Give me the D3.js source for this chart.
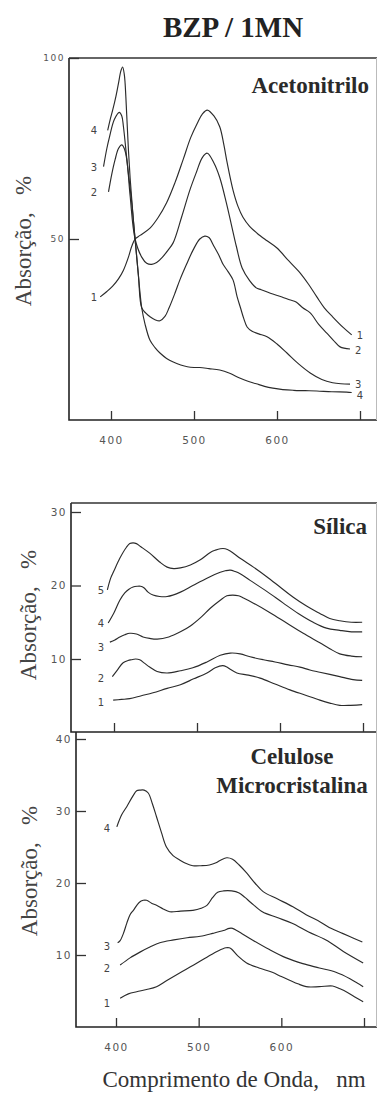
<!DOCTYPE html>
<html><head><meta charset="utf-8">
<script src="https://cdn.jsdelivr.net/npm/d3@7"></script>
<style>
html,body{margin:0;padding:0;background:#fff;}
svg{display:block;}
.tk text{font-family:"DejaVu Sans",sans-serif;font-size:10px;fill:#555;letter-spacing:1.5px;}
.tk line{stroke:#333;stroke-width:1.3;}
.tk path{display:none;}
</style></head><body>
<svg id="c" width="377" height="1095"></svg>
<script>
// ---------- data ----------
const title = "BZP / 1MN";
const xLabel = "Comprimento de Onda,   nm";
const yLabel = "Absorção,   %";
const xTicks = [400, 500, 600, 700];
const xTickLabels = ["400", "500", "600", ""];

// Panel A: Acetonitrilo  ([wavelength nm, absorption %])
const acetoName = "Acetonitrilo";
const acetoYTicks = [50, 100];
const aceto1 = [[387,34],[395,35.5],[402,37],[409,39],[415,41.4],[421,45],[425,48],[429,50],[435,51],[447,53],[457,56],[467,60],[477,65.5],[487,72],[496,78],[504,82],[510,84.5],[516,85.6],[524,84],[531,81],[536,76],[540,71],[547,63.5],[553,59],[559,56],[567,53.5],[576,51.6],[588,49.5],[600,47.5],[614,44],[628,40.6],[638,37.5],[648,34],[657,31],[667,28.5],[680,25.5],[690,23.5]];
const aceto2 = [[397,63],[401,68],[405,72],[409,75],[413,76],[416,75],[419,72],[423,62],[429,50],[437,45],[443,43.3],[449,43],[455,43.5],[462,45],[469,47],[475,49],[485,56],[495,63.5],[503,68.5],[510,72.5],[516,73.7],[524,71],[531,67],[539,60],[545,54],[551,48],[558,42],[567,38.5],[575,36.5],[581,36],[592,35],[606,34],[615,33.2],[623,32.6],[631,31],[640,29.6],[650,26.5],[660,24],[668,22],[676,20.2],[688,19.6]];
const aceto3 = [[391,70],[395,75],[398,78],[404,83],[410,85],[413,84],[415,81],[420,70],[425,60],[429,50],[433,40],[437,31],[442,29.5],[447,28.5],[453,27.7],[459,27.4],[465,28.6],[470,31],[477,35],[483,38.7],[491,43],[499,47],[507,50],[513,50.8],[518,50.4],[524,48],[530,45.5],[535,43],[541,41],[547,38.7],[552,34],[556,31],[560,28],[564,25.7],[570,24.5],[578,23.8],[588,23],[600,21],[612,18.5],[626,15.5],[640,13],[654,11.2],[667,10.3],[677,10],[688,9.9]];
const aceto4 = [[396,80],[399,83],[402,85.6],[406,89.5],[409,93],[412,96.5],[414,97.5],[416,95.5],[417,93],[419,84],[421,74.6],[423,67],[425,61],[427,55],[429,50],[431,45],[433,40],[435,35],[437,31],[441,26.5],[447,22],[453,20],[459,18.5],[467,17],[475,16],[484,15.2],[492,14.7],[500,14.5],[507,14.5],[518,14.2],[531,13.8],[543,12.9],[555,11.6],[565,10.7],[575,10],[585,9.3],[595,8.8],[607,8.4],[620,8.2],[634,8.1],[648,8],[666,7.8],[684,7.7],[690,7.6]];
const acetoSeries = [aceto1, aceto2, aceto3, aceto4];
const acetoNames = ["1", "2", "3", "4"];

// Panel B: Sílica
const silName = "Sílica";
const silYTicks = [10, 20, 30];
const sil1 = [[399,4.4],[409,4.5],[419,4.6],[433,5],[447,5.4],[464,6],[480,6.5],[496,7.3],[512,8.1],[522,8.8],[531,9.1],[536,8.9],[540,8.6],[548,8.1],[562,7.8],[576,7.4],[594,6.6],[612,5.8],[630,5.1],[648,4.4],[660,4],[672,3.7],[685,3.7],[699,3.8]];
const sil2 = [[398,7.6],[404,8.5],[411,9.5],[417,9.8],[421,9.9],[426,10],[431,9.9],[437,9.4],[443,8.9],[452,8.3],[464,8.1],[480,8.4],[495,8.8],[512,9.6],[528,10.5],[540,10.8],[552,10.7],[564,10.3],[580,9.9],[594,9.6],[610,9.2],[624,8.9],[636,8.5],[648,8.2],[660,7.9],[672,7.6],[688,7.2],[699,7.1]];
const sil3 = [[395,12.3],[401,12.6],[407,13],[413,13.3],[419,13.5],[427,13.4],[435,13],[443,12.8],[452,12.7],[466,13],[480,13.7],[492,14.5],[504,15.6],[516,16.9],[528,18],[536,18.6],[543,18.7],[550,18.6],[556,18.3],[568,17.6],[588,16.3],[608,14.9],[628,13.5],[648,12.2],[660,11.4],[672,10.7],[686,10.4],[699,10.3]];
const sil4 = [[393,14.9],[400,16.3],[407,18],[413,19],[418,19.5],[423,19.8],[428,19.9],[432,19.9],[436,19.7],[441,19.1],[447,18.7],[455,18.5],[464,18.5],[480,19.1],[495,20],[512,21],[528,21.8],[534,22],[540,22.1],[546,21.9],[552,21.6],[564,20.7],[584,19.2],[604,17.6],[622,16.2],[640,15],[656,14.2],[672,13.9],[686,13.7],[699,13.7]];
const sil5 = [[392,19.4],[396,21],[400,22],[407,23.7],[415,25.2],[419,25.7],[423,25.8],[427,25.7],[432,25.3],[443,24.4],[455,23.2],[464,22.5],[472,22.3],[480,22.4],[492,22.8],[504,23.5],[516,24.5],[522,24.8],[528,25],[534,25],[540,24.7],[552,23.7],[568,22.5],[584,21.2],[600,19.8],[616,18.4],[632,17.2],[648,16.2],[660,15.5],[672,15.2],[686,15],[699,15]];
const silSeries = [sil1, sil2, sil3, sil4, sil5];
const silNames = ["1", "2", "3", "4", "5"];

// Panel C: Celulose Microcristalina
const celName = ["Celulose", "Microcristalina"];
const celYTicks = [10, 20, 30, 40];
const cel1 = [[405,4],[415,4.6],[425,4.9],[437,5.2],[449,5.6],[462,6.5],[477,7.5],[494,8.6],[510,9.7],[524,10.6],[533,11],[537,11],[540,10.8],[548,9.8],[558,8.9],[573,8.2],[589,7.6],[600,7],[610,6.5],[620,6],[630,5.6],[646,5.6],[662,5.7],[671,5.3],[680,4.8],[690,4.1],[699,3.5]];
const cel2 = [[405,8.6],[417,9.6],[429,10.4],[441,11.1],[453,11.7],[470,12.1],[486,12.4],[502,12.6],[517,13],[530,13.4],[537,13.7],[541,13.7],[546,13.4],[552,13],[565,12.1],[585,10.8],[606,9.6],[626,8.8],[646,8.2],[666,7.6],[683,6.7],[699,5.6]];
const cel3 = [[402,11.7],[405,12],[409,13],[413,14.4],[417,15.6],[421,16.2],[428,17.3],[433,17.6],[437,17.6],[443,17.2],[449,16.9],[457,16.4],[465,16],[478,16.1],[493,16.2],[503,16.5],[510,16.9],[517,18],[523,18.7],[530,18.9],[540,18.9],[549,18.6],[556,18],[563,17.3],[577,16],[595,15.2],[613,14.4],[633,13.2],[654,12.1],[675,10.5],[699,8.9]];
const cel4 = [[401,27.8],[407,29.5],[413,30.6],[420,32],[425,32.8],[429,32.9],[434,32.9],[439,32.5],[444,31],[449,29.2],[455,27],[461,25],[469,23.8],[477,23.2],[485,22.7],[493,22.4],[503,22.4],[513,22.5],[521,22.8],[527,23.2],[534,23.5],[541,23.3],[549,22.5],[558,21.4],[568,20],[578,18.8],[595,17.8],[614,16.7],[630,15.6],[647,14.6],[660,13.7],[674,13],[686,12.4],[698,11.8]];
const celSeries = [cel1, cel2, cel3, cel4];
const celNames = ["1", "2", "3", "4"];

// ---------- drawing ----------
const svg = d3.select("#c");
const serif = '"Liberation Serif","Times New Roman",serif';
const ink = "#2b2b2b";
const lineGen = (x, y) => d3.line().x(d => x(d[0])).y(d => y(d[1])).curve(d3.curveCatmullRom.alpha(0.5));

svg.append("text").attr("x", 233).attr("y", 37).attr("text-anchor", "middle")
  .attr("font-family", serif).attr("font-weight", "bold").attr("font-size", 29).attr("fill", "#222").text(title);

function panel(cfg) {
  const g = svg.append("g");
  const x = d3.scaleLinear().domain([400, 700]).range(cfg.xr);
  const y = d3.scaleLinear().domain(cfg.yd).range(cfg.yr);
  // frame
  g.append("path").attr("fill", "none").attr("stroke", "#222").attr("stroke-width", 1.6)
    .attr("d", `M${cfg.left},${cfg.top}V${cfg.bottom}H${cfg.right}`);
  if (cfg.drawTop) g.append("line").attr("x1", cfg.left).attr("x2", cfg.right).attr("y1", cfg.top).attr("y2", cfg.top)
    .attr("stroke", "#333").attr("stroke-width", 1.4);
  g.append("line").attr("x1", cfg.right - 0.5).attr("x2", cfg.right - 0.5).attr("y1", cfg.top).attr("y2", cfg.bottom)
    .attr("stroke", "#bbb").attr("stroke-width", 1);
  // y axis
  const ya = g.append("g").attr("class", "tk").attr("transform", `translate(${cfg.left},0)`)
    .call(d3.axisLeft(y).tickValues(cfg.yTicks).tickSize(-10).tickPadding(5).tickFormat(d3.format("d")));
  ya.selectAll("text").attr("x", -4).style("font-size", cfg.yFont + "px");
  // x axis
  const xa = g.append("g").attr("class", "tk").attr("transform", `translate(0,${cfg.bottom})`)
    .call(d3.axisBottom(x).tickValues(xTicks).tickSize(-9).tickPadding(17).tickFormat((d, i) => cfg.xLabels ? xTickLabels[i] : ""));
  xa.selectAll("text").style("font-size", "10.5px");
  // curves
  cfg.series.forEach((s, i) => {
    g.append("path").datum(s).attr("fill", "none").attr("stroke", ink).attr("stroke-width", 1.15)
      .attr("stroke-linejoin", "round").attr("d", lineGen(x, y));
    g.append("text").attr("x", cfg.labelX).attr("y", y(s[0][1]) + cfg.leftOff[i] + 4).attr("text-anchor", "end")
      .attr("font-family", '"DejaVu Sans",sans-serif').attr("font-size", 10).attr("fill", "#444").text(cfg.names[i]);
    if (cfg.rightLabels) {
      const e = s[s.length - 1];
      g.append("text").attr("x", x(e[0]) + 5).attr("y", y(e[1]) + cfg.rightOff[i] + 4)
        .attr("font-family", '"DejaVu Sans",sans-serif').attr("font-size", 10).attr("fill", "#444").text(cfg.names[i]);
    }
  });
  // y title
  g.append("text").attr("transform", `translate(${cfg.ylx},${cfg.yly}) rotate(-90)`).attr("text-anchor", "middle")
    .attr("font-family", serif).attr("font-size", 23).attr("fill", "#444").attr("xml:space", "preserve")
    .style("white-space", "pre").text(yLabel);
  // name
  cfg.name.forEach((t, i) => {
    g.append("text").attr("x", cfg.nameX).attr("y", cfg.nameY + i * 29).attr("text-anchor", cfg.nameAnchor)
      .attr("font-family", serif).attr("font-weight", "bold").attr("font-size", 23).attr("fill", "#2a2a2a").text(t);
  });
}

panel({xr: [111, 360], yd: [0, 100], yr: [420, 58], left: 69, right: 377, top: 58, bottom: 420, drawTop: true,
  yTicks: acetoYTicks, yFont: 9, xLabels: true, series: acetoSeries, names: acetoNames, rightLabels: true,
  labelX: 97, leftOff: [0, 0, 0, 0],
  rightOff: [0, 1, 0, 3], ylx: 31, yly: 241, name: [acetoName], nameX: 369, nameY: 93, nameAnchor: "end"});

panel({xr: [114, 363], yd: [0, 30], yr: [732.5, 512], left: 71, right: 377, top: 503, bottom: 732, drawTop: true,
  yTicks: silYTicks, yFont: 10.5, xLabels: false, series: silSeries, names: silNames, rightLabels: false,
  labelX: 104, leftOff: [2, 1, 5, 0, 0],
  ylx: 36, yly: 615, name: [silName], nameX: 367, nameY: 534, nameAnchor: "end"});

panel({xr: [116, 364], yd: [0, 40], yr: [1027, 739], left: 76, right: 377, top: 732, bottom: 1027, drawTop: false,
  yTicks: celYTicks, yFont: 10.5, xLabels: true, series: celSeries, names: celNames, rightLabels: false,
  labelX: 110, leftOff: [5, 3, 3, 1],
  ylx: 37, yly: 871, name: celName, nameX: 292, nameY: 764, nameAnchor: "middle"});

svg.append("text").attr("x", 234).attr("y", 1087).attr("text-anchor", "middle")
  .attr("font-family", serif).attr("font-size", 23).attr("fill", "#333").attr("xml:space", "preserve")
  .style("white-space", "pre").text(xLabel);
</script>
</body></html>
